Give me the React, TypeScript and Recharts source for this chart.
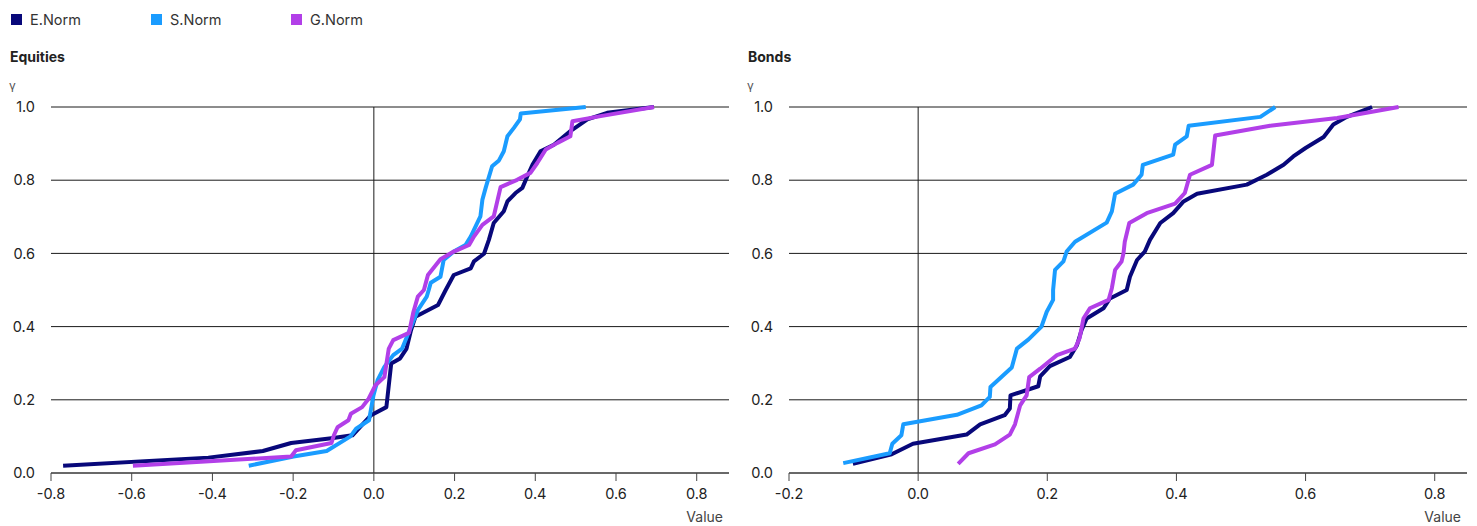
import React from 'react';
import { LineChart, Line, XAxis, YAxis, CartesianGrid, ReferenceLine } from 'recharts';

type Pt = [number, number];

// [value, gamma] pairs
const eqENorm: Pt[] = [
  [-0.77, 0.02], [-0.41, 0.042], [-0.275, 0.06], [-0.205, 0.082], [-0.105, 0.095], [-0.053, 0.103],
  [-0.007, 0.158], [0.031, 0.18], [0.043, 0.299], [0.065, 0.313], [0.081, 0.34], [0.092, 0.39],
  [0.103, 0.427], [0.159, 0.459], [0.178, 0.5], [0.198, 0.541], [0.24, 0.559], [0.248, 0.578],
  [0.273, 0.599], [0.285, 0.637], [0.297, 0.683], [0.322, 0.715], [0.331, 0.742], [0.351, 0.765],
  [0.368, 0.779], [0.38, 0.81], [0.393, 0.842], [0.413, 0.879], [0.446, 0.897], [0.487, 0.934],
  [0.529, 0.966], [0.578, 0.984], [0.694, 1.0],
];
const eqSNorm: Pt[] = [
  [-0.31, 0.02], [-0.199, 0.045], [-0.117, 0.06], [-0.058, 0.1], [-0.044, 0.121], [-0.012, 0.144],
  [-0.001, 0.212], [0.009, 0.253], [0.026, 0.29], [0.048, 0.322], [0.07, 0.34], [0.087, 0.386],
  [0.109, 0.445], [0.131, 0.482], [0.136, 0.5], [0.141, 0.52], [0.165, 0.536], [0.173, 0.582],
  [0.198, 0.605], [0.227, 0.623], [0.24, 0.646], [0.248, 0.664], [0.264, 0.701], [0.269, 0.747],
  [0.277, 0.779], [0.293, 0.838], [0.31, 0.854], [0.322, 0.879], [0.331, 0.92], [0.347, 0.943],
  [0.362, 0.966], [0.364, 0.982], [0.525, 1.0],
];
const eqGNorm: Pt[] = [
  [-0.597, 0.02], [-0.205, 0.045], [-0.193, 0.062], [-0.105, 0.082], [-0.099, 0.103], [-0.09, 0.125],
  [-0.063, 0.144], [-0.057, 0.162], [-0.029, 0.18], [-0.013, 0.203], [0.004, 0.24], [0.026, 0.262],
  [0.037, 0.34], [0.048, 0.363], [0.087, 0.383], [0.098, 0.44], [0.109, 0.482], [0.124, 0.5],
  [0.134, 0.541], [0.165, 0.584], [0.198, 0.605], [0.236, 0.623], [0.248, 0.646], [0.269, 0.678],
  [0.297, 0.701], [0.314, 0.781], [0.355, 0.801], [0.388, 0.82], [0.405, 0.847], [0.426, 0.884],
  [0.455, 0.902], [0.487, 0.92], [0.492, 0.961], [0.562, 0.975], [0.694, 1.0],
];

const bdENorm: Pt[] = [
  [-0.101, 0.025], [-0.041, 0.051], [-0.008, 0.08], [0.075, 0.105], [0.096, 0.133], [0.134, 0.158],
  [0.142, 0.176], [0.143, 0.212], [0.186, 0.237], [0.189, 0.264], [0.204, 0.292], [0.235, 0.317],
  [0.246, 0.349], [0.253, 0.39], [0.261, 0.422], [0.287, 0.45], [0.297, 0.477], [0.323, 0.5],
  [0.328, 0.536], [0.339, 0.582], [0.351, 0.605], [0.359, 0.637], [0.375, 0.683], [0.395, 0.71],
  [0.411, 0.742], [0.432, 0.763], [0.509, 0.788], [0.54, 0.815], [0.566, 0.842], [0.581, 0.865],
  [0.6, 0.888], [0.628, 0.918], [0.643, 0.952], [0.664, 0.973], [0.703, 1.0],
];
const bdSNorm: Pt[] = [
  [-0.116, 0.027], [-0.044, 0.054], [-0.04, 0.08], [-0.026, 0.103], [-0.023, 0.133], [0.06, 0.159],
  [0.098, 0.185], [0.111, 0.208], [0.112, 0.235], [0.145, 0.288], [0.153, 0.34], [0.171, 0.365],
  [0.191, 0.4], [0.199, 0.44], [0.209, 0.473], [0.209, 0.5], [0.212, 0.555], [0.225, 0.578],
  [0.23, 0.605], [0.243, 0.632], [0.292, 0.684], [0.3, 0.715], [0.305, 0.763], [0.333, 0.788],
  [0.346, 0.815], [0.348, 0.842], [0.395, 0.87], [0.398, 0.897], [0.416, 0.92], [0.419, 0.949],
  [0.53, 0.973], [0.553, 1.0],
];
const bdGNorm: Pt[] = [
  [0.062, 0.025], [0.078, 0.054], [0.119, 0.078], [0.142, 0.105], [0.15, 0.133], [0.158, 0.185],
  [0.168, 0.212], [0.172, 0.262], [0.189, 0.285], [0.215, 0.322], [0.243, 0.34], [0.25, 0.368],
  [0.256, 0.422], [0.266, 0.45], [0.295, 0.473], [0.3, 0.505], [0.305, 0.555], [0.315, 0.578],
  [0.318, 0.6], [0.32, 0.632], [0.327, 0.683], [0.354, 0.71], [0.398, 0.736], [0.413, 0.765],
  [0.421, 0.815], [0.455, 0.842], [0.46, 0.922], [0.545, 0.949], [0.649, 0.97], [0.744, 1.0],
];

const seriesNames = ['E.Norm', 'S.Norm', 'G.Norm'];
const seriesColors = ['#08087a', '#1a9cff', '#b23fe8'];

const yTicks = [0, 0.2, 0.4, 0.6, 0.8, 1.0];
const eqXTicks = [-0.8, -0.6, -0.4, -0.2, 0, 0.2, 0.4, 0.6, 0.8];
const bdXTicks = [-0.2, 0, 0.2, 0.4, 0.6, 0.8];

const FONT = 'Inter, "Noto Sans", sans-serif';
const toRows = (pts: Pt[]) => pts.map(([x, y]) => ({ x, y }));
const fmt = (v: number) => v.toFixed(1);

interface PanelProps {
  left: number;
  title: string;
  domain: [number, number];
  xTicks: number[];
  series: Pt[][];
}

function Panel({ left, title, domain, xTicks, series }: PanelProps) {
  return (
    <div style={{ position: 'absolute', left, top: 0, width: 738, height: 526 }}>
      <div style={{ position: 'absolute', left: 10, top: 48, fontSize: 14, fontWeight: 700, color: '#222' }}>
        {title}
      </div>
      <div style={{ position: 'absolute', left: 9, top: 78, fontSize: 12, color: '#555' }}>γ</div>
      <div
        style={{ position: 'absolute', right: 15, top: 508, fontSize: 14, color: '#444', textAlign: 'right' }}
      >
        Value
      </div>
      <LineChart width={738} height={526} margin={{ top: 107, right: 9, left: 0, bottom: 0 }}>
        <CartesianGrid horizontal vertical={false} stroke="#1a1a1a" strokeWidth={1} />
        <XAxis
          dataKey="x"
          type="number"
          domain={domain}
          ticks={xTicks}
          allowDataOverflow
          tickFormatter={fmt}
          height={53}
          tickSize={8}
          tickMargin={8}
          axisLine={{ stroke: '#444' }}
          tickLine={{ stroke: '#444' }}
          tick={{ fill: '#222', fontSize: 14.5, fontFamily: FONT }}
        />
        <YAxis
          type="number"
          domain={[0, 1]}
          ticks={yTicks}
          tickFormatter={fmt}
          width={51}
          tickSize={0}
          tickMargin={16}
          axisLine={false}
          tickLine={false}
          tick={{ fill: '#222', fontSize: 14.5, fontFamily: FONT }}
        />
        <ReferenceLine x={0} stroke="#1a1a1a" strokeWidth={1} />
        {series.map((pts, i) => (
          <Line
            key={seriesNames[i]}
            data={toRows(pts)}
            dataKey="y"
            type="linear"
            stroke={seriesColors[i]}
            strokeWidth={4}
            strokeLinejoin="round"
            dot={false}
            activeDot={false}
            isAnimationActive={false}
          />
        ))}
      </LineChart>
    </div>
  );
}

export default function App() {
  return (
    <div style={{ position: 'absolute', left: 0, top: 0, width: 1477, height: 526, background: '#fff', fontFamily: FONT }}>
      {seriesNames.map((name, i) => (
        <div
          key={name}
          style={{ position: 'absolute', left: 11 + i * 140, top: 11, display: 'flex', alignItems: 'center', fontSize: 14.5, color: '#333' }}
        >
          <span style={{ width: 11, height: 11, background: seriesColors[i], display: 'inline-block', marginRight: 8 }} />
          {name}
        </div>
      ))}
      <Panel left={0} title="Equities" domain={[-0.8, 0.88]} xTicks={eqXTicks} series={[eqENorm, eqSNorm, eqGNorm]} />
      <Panel left={738} title="Bonds" domain={[-0.2, 0.85]} xTicks={bdXTicks} series={[bdENorm, bdSNorm, bdGNorm]} />
    </div>
  );
}
